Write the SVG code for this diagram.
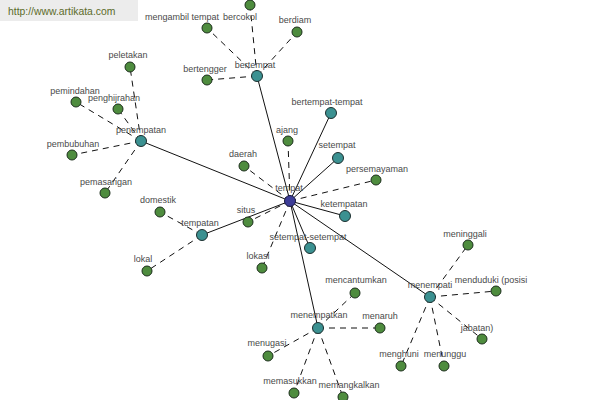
<svg xmlns="http://www.w3.org/2000/svg" width="600" height="400" viewBox="0 0 600 400">
<style>
text{font-family:"Liberation Sans",Arial,sans-serif;font-size:9px;fill:#4a4a4a;text-anchor:middle}
.s{stroke:#111;stroke-width:1;fill:none}
.d{stroke:#111;stroke-width:1;fill:none;stroke-dasharray:6,5}
.g{fill:#4e8c3e;stroke:#1c2e1c;stroke-width:1}
.t{fill:#3b9191;stroke:#1c2e2e;stroke-width:1}
.c{fill:#3d3d98;stroke:#1a1a40;stroke-width:1}
.wm{font-size:10.4px;fill:#5c6b2a;text-anchor:start}
</style>
<rect width="600" height="400" fill="#ffffff"/>
<g id="watermark"><rect x="0" y="0" width="138" height="21" fill="#ececec"/><text class="wm" x="8" y="15">http://www.artikata.com</text></g>
<g id="connectors">
<line class="s" x1="290" y1="201" x2="141" y2="141"/>
<line class="s" x1="290" y1="201" x2="257" y2="76"/>
<line class="s" x1="290" y1="201" x2="331" y2="113"/>
<line class="s" x1="290" y1="201" x2="338" y2="158"/>
<line class="s" x1="290" y1="201" x2="345" y2="216"/>
<line class="s" x1="290" y1="201" x2="310" y2="248"/>
<line class="s" x1="290" y1="201" x2="202" y2="235"/>
<line class="s" x1="290" y1="201" x2="318" y2="328"/>
<line class="s" x1="290" y1="201" x2="430" y2="297"/>
<line class="d" x1="290" y1="201" x2="288" y2="141"/>
<line class="d" x1="290" y1="201" x2="244" y2="166"/>
<line class="d" x1="290" y1="201" x2="376" y2="180"/>
<line class="d" x1="290" y1="201" x2="248" y2="222"/>
<line class="d" x1="290" y1="201" x2="262" y2="268"/>
<line class="d" x1="141" y1="141" x2="130" y2="67"/>
<line class="d" x1="141" y1="141" x2="76" y2="102"/>
<line class="d" x1="141" y1="141" x2="118" y2="109"/>
<line class="d" x1="141" y1="141" x2="72" y2="155"/>
<line class="d" x1="141" y1="141" x2="105" y2="193"/>
<line class="d" x1="257" y1="76" x2="207" y2="28"/>
<line class="d" x1="257" y1="76" x2="250" y2="5"/>
<line class="d" x1="257" y1="76" x2="297" y2="32"/>
<line class="d" x1="257" y1="76" x2="207" y2="80"/>
<line class="d" x1="202" y1="235" x2="160" y2="212"/>
<line class="d" x1="202" y1="235" x2="147" y2="271"/>
<line class="d" x1="318" y1="328" x2="355" y2="293"/>
<line class="d" x1="318" y1="328" x2="380" y2="328"/>
<line class="d" x1="318" y1="328" x2="268" y2="356"/>
<line class="d" x1="318" y1="328" x2="294" y2="393"/>
<line class="d" x1="318" y1="328" x2="343" y2="397"/>
<line class="d" x1="430" y1="297" x2="468" y2="245"/>
<line class="d" x1="430" y1="297" x2="496" y2="291"/>
<line class="d" x1="430" y1="297" x2="482" y2="339"/>
<line class="d" x1="430" y1="297" x2="401" y2="366"/>
<line class="d" x1="430" y1="297" x2="444" y2="366"/>
</g>
<g id="nodes">
<g id="n-tempat"><circle class="c" cx="290" cy="201" r="5.5"/><text x="289" y="191">tempat</text></g>
<g id="n-penempatan"><circle class="t" cx="141" cy="141" r="5.5"/><text x="141" y="133">penempatan</text></g>
<g id="n-bertempat"><circle class="t" cx="257" cy="76" r="5.5"/><text x="255" y="68">bertempat</text></g>
<g id="n-bertempat-tempat"><circle class="t" cx="331" cy="113" r="5.5"/><text x="327" y="105">bertempat-tempat</text></g>
<g id="n-setempat"><circle class="t" cx="338" cy="158" r="5.5"/><text x="337" y="148">setempat</text></g>
<g id="n-ketempatan"><circle class="t" cx="345" cy="216" r="5.5"/><text x="344" y="207">ketempatan</text></g>
<g id="n-setempat-setempat"><circle class="t" cx="310" cy="248" r="5.5"/><text x="308" y="240">setempat-setempat</text></g>
<g id="n-tempatan"><circle class="t" cx="202" cy="235" r="5.5"/><text x="200" y="226">tempatan</text></g>
<g id="n-menempatkan"><circle class="t" cx="318" cy="328" r="5.5"/><text x="319" y="318">menempatkan</text></g>
<g id="n-menempati"><circle class="t" cx="430" cy="297" r="5.5"/><text x="430" y="288">menempati</text></g>
<g id="n-peletakan"><circle class="g" cx="130" cy="67" r="5"/><text x="128" y="58">peletakan</text></g>
<g id="n-pemindahan"><circle class="g" cx="76" cy="102" r="5"/><text x="75" y="94">pemindahan</text></g>
<g id="n-penghijrahan"><circle class="g" cx="118" cy="109" r="5"/><text x="114" y="101">penghijrahan</text></g>
<g id="n-pembubuhan"><circle class="g" cx="72" cy="155" r="5"/><text x="73" y="147">pembubuhan</text></g>
<g id="n-pemasarigan"><circle class="g" cx="105" cy="193" r="5"/><text x="106" y="185">pemasarigan</text></g>
<g id="n-mengambil-tempat"><circle class="g" cx="207" cy="28" r="5"/><text x="182" y="20">mengambil tempat</text></g>
<g id="n-bercokol"><circle class="g" cx="250" cy="5" r="5"/><text x="240" y="20">bercokol</text></g>
<g id="n-berdiam"><circle class="g" cx="297" cy="32" r="5"/><text x="295" y="23">berdiam</text></g>
<g id="n-bertengger"><circle class="g" cx="207" cy="80" r="5"/><text x="205" y="72">bertengger</text></g>
<g id="n-ajang"><circle class="g" cx="288" cy="141" r="5"/><text x="287" y="133">ajang</text></g>
<g id="n-daerah"><circle class="g" cx="244" cy="166" r="5"/><text x="243" y="157">daerah</text></g>
<g id="n-persemayaman"><circle class="g" cx="376" cy="180" r="5"/><text x="377" y="172">persemayaman</text></g>
<g id="n-domestik"><circle class="g" cx="160" cy="212" r="5"/><text x="158" y="203">domestik</text></g>
<g id="n-situs"><circle class="g" cx="248" cy="222" r="5"/><text x="246" y="213">situs</text></g>
<g id="n-lokal"><circle class="g" cx="147" cy="271" r="5"/><text x="143" y="262">lokal</text></g>
<g id="n-lokasi"><circle class="g" cx="262" cy="268" r="5"/><text x="258" y="259">lokasi</text></g>
<g id="n-mencantumkan"><circle class="g" cx="355" cy="293" r="5"/><text x="356" y="283">mencantumkan</text></g>
<g id="n-menaruh"><circle class="g" cx="380" cy="328" r="5"/><text x="380" y="319">menaruh</text></g>
<g id="n-menugasi"><circle class="g" cx="268" cy="356" r="5"/><text x="267" y="346">menugasi</text></g>
<g id="n-memasukkan"><circle class="g" cx="294" cy="393" r="5"/><text x="290" y="384">memasukkan</text></g>
<g id="n-memangkalkan"><circle class="g" cx="343" cy="397" r="5"/><text x="349" y="388">memangkalkan</text></g>
<g id="n-meninggali"><circle class="g" cx="468" cy="245" r="5"/><text x="465" y="237">meninggali</text></g>
<g id="n-menduduki"><circle class="g" cx="496" cy="291" r="5"/><text x="491" y="283">menduduki (posisi</text></g>
<g id="n-jabatan"><circle class="g" cx="482" cy="339" r="5"/><text x="477" y="331">jabatan)</text></g>
<g id="n-menghuni"><circle class="g" cx="401" cy="366" r="5"/><text x="399" y="357">menghuni</text></g>
<g id="n-menunggu"><circle class="g" cx="444" cy="366" r="5"/><text x="445" y="357">menunggu</text></g>
</g>
</svg>
